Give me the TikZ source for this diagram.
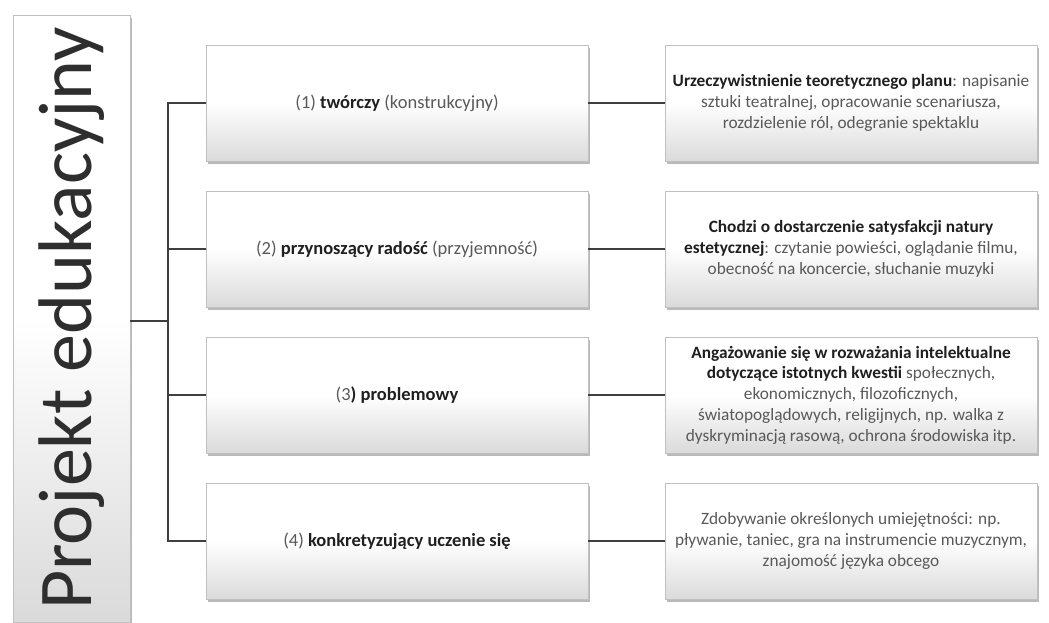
\documentclass[tikz,border=0pt]{standalone}
\usepackage{fontspec}
\setmainfont{Carlito}
\usetikzlibrary{shadows}
\definecolor{txtgray}{HTML}{595959}
\definecolor{linegray}{HTML}{3F3F3F}
\definecolor{boxline}{HTML}{C0C0C0}
\definecolor{boxbottom}{HTML}{DADADA}
\newcommand\wyr[1]{\textcolor{black!88}{\textbf{#1}}}

\begin{document}
\begin{tikzpicture}[x=1pt,y=-1pt]
\tikzstyle{every node}+=[inner sep=2pt, text=txtgray]
\tikzstyle{box}=[draw=boxline, line width=0.6pt, top color=white, bottom color=boxbottom, middle color=white, drop shadow={shadow xshift=2pt, shadow yshift=-3pt, fill=black!50, opacity=0.55}, align=center]
\tikzstyle{kind}=[box, minimum width=382pt, minimum height=116pt, font=\fontsize{18.5}{22}\selectfont]
\tikzstyle{goal}=[box, minimum width=372pt, minimum height=116pt, font=\fontsize{17.3}{20.7}\selectfont]
\tikzstyle{wire}=[draw=linegray, line width=1.3pt]
\useasboundingbox (0,0) rectangle (1049,623);
\node [box, minimum width=117pt, minimum height=607pt, text=black!82] (title) at (71.5,318.5) {\rotatebox{90}{\fontsize{76}{80}\selectfont Projekt edukacyjny}};
\node [kind] (k1) at (397,103) {(1) \wyr{twórczy} (konstrukcyjny)};
\node [kind] (k2) at (397,249) {(2) \wyr{przynoszący radość} (przyjemność)};
\node [kind] (k3) at (397,395) {(3\wyr{) problemowy}};
\node [kind] (k4) at (397,541) {(4) \wyr{konkretyzujący uczenie się}};
\node [goal] (g1) at (851,103) {\wyr{Urzeczywistnienie teoretycznego planu}: napisanie\\ sztuki teatralnej, opracowanie scenariusza,\\ rozdzielenie ról, odegranie spektaklu};
\node [goal] (g2) at (851,249) {\wyr{Chodzi o dostarczenie satysfakcji natury}\\ \wyr{estetycznej}: czytanie powieści, oglądanie filmu,\\ obecność na koncercie, słuchanie muzyki};
\node [goal] (g3) at (851,395) {\wyr{Angażowanie się w rozważania intelektualne}\\ \wyr{dotyczące istotnych kwestii} społecznych,\\ ekonomicznych, filozoficznych,\\ światopoglądowych, religijnych, np. walka z\\ dyskryminacją rasową, ochrona środowiska itp.};
\node [goal] (g4) at (851,541) {Zdobywanie określonych umiejętności: np.\\ pływanie, taniec, gra na instrumencie muzycznym,\\ znajomość języka obcego};
\coordinate (trunk) at (168,321);
\draw [wire] (title.east |- trunk) -- (trunk);
\draw [wire] (k1.west) -- (k1.west -| trunk) -- (k4.west -| trunk) -- (k4.west);
\draw [wire] (k2.west) -- (k2.west -| trunk);
\draw [wire] (k3.west) -- (k3.west -| trunk);
\draw [wire] (k1) -- (g1);
\draw [wire] (k2) -- (g2);
\draw [wire] (k3) -- (g3);
\draw [wire] (k4) -- (g4);
\end{tikzpicture}
\end{document}
